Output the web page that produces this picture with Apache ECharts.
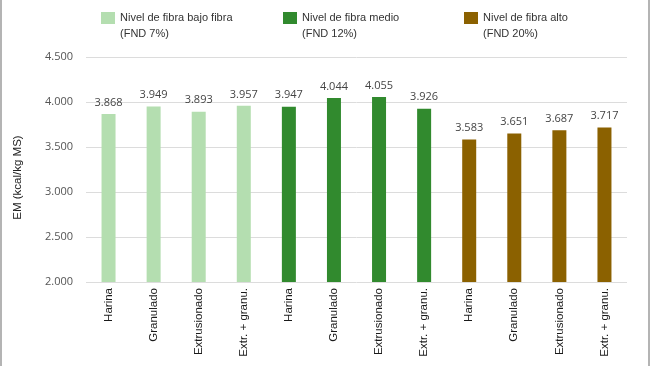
<!DOCTYPE html>
<html>
<head>
<meta charset="utf-8">
<script src="https://cdn.jsdelivr.net/npm/echarts@6/dist/echarts.min.js"></script>
<style>
html,body{margin:0;padding:0;background:#fff;}
#wrap{position:relative;width:650px;height:366px;box-sizing:border-box;border-left:2px solid #b4b4b4;border-right:2px solid #b4b4b4;}
#c{position:absolute;left:-2px;top:0;width:650px;height:366px;}
</style>
</head>
<body>
<div id="wrap"><div id="c"></div></div>
<script>
const categories = ['Harina','Granulado','Extrusionado','Extr. + granu.','Harina','Granulado','Extrusionado','Extr. + granu.','Harina','Granulado','Extrusionado','Extr. + granu.'];
const seriesNames = ['Nivel de fibra bajo fibra\n(FND 7%)','Nivel de fibra medio\n(FND 12%)','Nivel de fibra alto\n(FND 20%)'];
const bajo  = [3868, 3949, 3893, 3957, null, null, null, null, null, null, null, null];
const medio = [null, null, null, null, 3947, 4044, 4055, 3926, null, null, null, null];
const alto  = [null, null, null, null, null, null, null, null, 3583, 3651, 3687, 3717];
const yTicks = [2000, 2500, 3000, 3500, 4000, 4500];
const colors = ['#b4deb0', '#318a2e', '#8b6100'];

function fmt(v){ return String(v).replace(/\B(?=(\d{3})+(?!\d))/g, '.'); }

const chart = echarts.init(document.getElementById('c'));
const dataSets = [bajo, medio, alto];
const legendLefts = [101, 283, 464];
chart.setOption({
  animation: false,
  textStyle: {fontFamily: 'Liberation Sans, Arial, sans-serif'},
  legend: seriesNames.map((n, i) => ({
    data: [n], left: legendLefts[i], top: -6, padding: 0,
    icon: 'rect', itemWidth: 14, itemHeight: 12, itemGap: 6,
    formatter: name => '\u00a0\n' + name,
    textStyle: {fontSize: 11, color: '#333', lineHeight: 16, fontFamily: 'Liberation Sans, Arial, sans-serif'},
    selectedMode: false
  })),
  grid: {left: 86, right: 23, top: 57, bottom: 84},
  xAxis: {
    type: 'category', data: categories,
    axisLine: {show: false}, axisTick: {show: false},
    axisLabel: {rotate: 90, interval: 0, margin: 6, fontSize: 11.5, color: '#1a1a1a', fontFamily: 'Liberation Sans, Arial, sans-serif'}
  },
  yAxis: {
    type: 'value', min: yTicks[0], max: yTicks[yTicks.length - 1], interval: 500,
    name: 'EM (kcal/kg MS)', nameLocation: 'middle', nameGap: 62,
    nameTextStyle: {fontSize: 11.5, color: '#222', fontFamily: 'Liberation Sans, Arial, sans-serif', padding: [0, 16, 0, 0]},
    axisLine: {show: false}, axisTick: {show: false},
    splitLine: {lineStyle: {color: '#dcdcdc', width: 1}},
    axisLabel: {formatter: fmt, fontSize: 11, color: '#555', margin: 13, fontFamily: 'Open Sans, sans-serif'}
  },
  series: dataSets.map((d, i) => ({
    name: seriesNames[i], type: 'bar', stack: 'all', data: d,
    barWidth: 14, itemStyle: {color: colors[i]},
    label: {show: true, position: 'top', distance: 6, formatter: p => fmt(p.value),
      fontSize: 11, color: '#444', fontFamily: 'Open Sans, sans-serif'}
  }))
});
</script>
</body>
</html>
